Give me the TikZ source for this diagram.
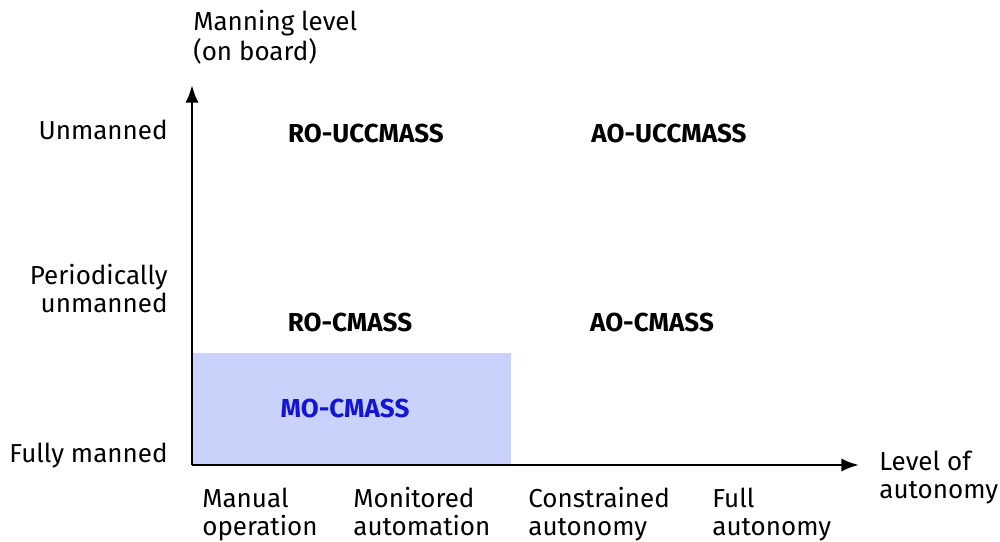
\documentclass[tikz,border=0pt]{standalone}
\usepackage{fontspec}
\setmainfont{Fira Sans}
\usetikzlibrary{arrows.meta}
\definecolor{mofill}{RGB}{200,210,250}
\definecolor{motext}{RGB}{20,20,210}
\tikzset{
  lbl/.style={inner sep=0pt, font=\fontsize{14.8pt}{15.4pt}\selectfont},
  cls/.style={inner sep=0pt, font=\fontsize{14.8pt}{15.4pt}\selectfont\bfseries},
  axis/.style={line width=1.5pt, -{Latex[length=10pt,width=7.5pt]}}
}

\begin{document}
\begin{tikzpicture}[x=0.02cm,y=-0.02cm]
			%%%%% START %%%%%
			\useasboundingbox (0,0) rectangle (1000,541);
			
			\fill[mofill] (193, 353) rectangle (511, 465);
			
			\coordinate (O) at (192, 465);
			\coordinate (ytip) at (192, 85);
			\coordinate (xtip) at (859, 465);
			\draw[axis] (O) -- (ytip);
			\draw[axis] (O) -- (xtip);
			
			% multi-line nodes sit on their last line
			\node[lbl, anchor=base west, align=left] (ylab) at (193, 60) {Manning level\\(on board)};
			\node[lbl, anchor=base west, align=left] (xlab) at (879, 498) {Level of\\autonomy};
			
			\node[lbl, anchor=base east] (unm) at (168, 139) {Unmanned};
			\node[lbl, anchor=base east, align=right] (per) at (168, 312) {Periodically\\unmanned};
			\node[lbl, anchor=base east] (ful) at (168, 462) {Fully manned};
			
			\node[lbl, anchor=base west, align=left] (man) at (202, 535) {Manual\\operation};
			\node[lbl, anchor=base west, align=left] (mon) at (353, 535) {Monitored\\automation};
			\node[lbl, anchor=base west, align=left] (con) at (528, 535) {Constrained\\autonomy};
			\node[lbl, anchor=base west, align=left] (fau) at (712, 535) {Full\\autonomy};
			
			\node[cls, anchor=base] (rouc) at (366, 142) {RO-UCCMASS};
			\node[cls, anchor=base] (aouc) at (669, 142) {AO-UCCMASS};
			\node[cls, anchor=base] (roc) at (350, 331) {RO-CMASS};
			\node[cls, anchor=base] (aoc) at (652, 331) {AO-CMASS};
			\node[cls, anchor=base, text=motext] (moc) at (345, 417) {MO-CMASS};
			%%%%% END %%%%%
\end{tikzpicture}
\end{document}
